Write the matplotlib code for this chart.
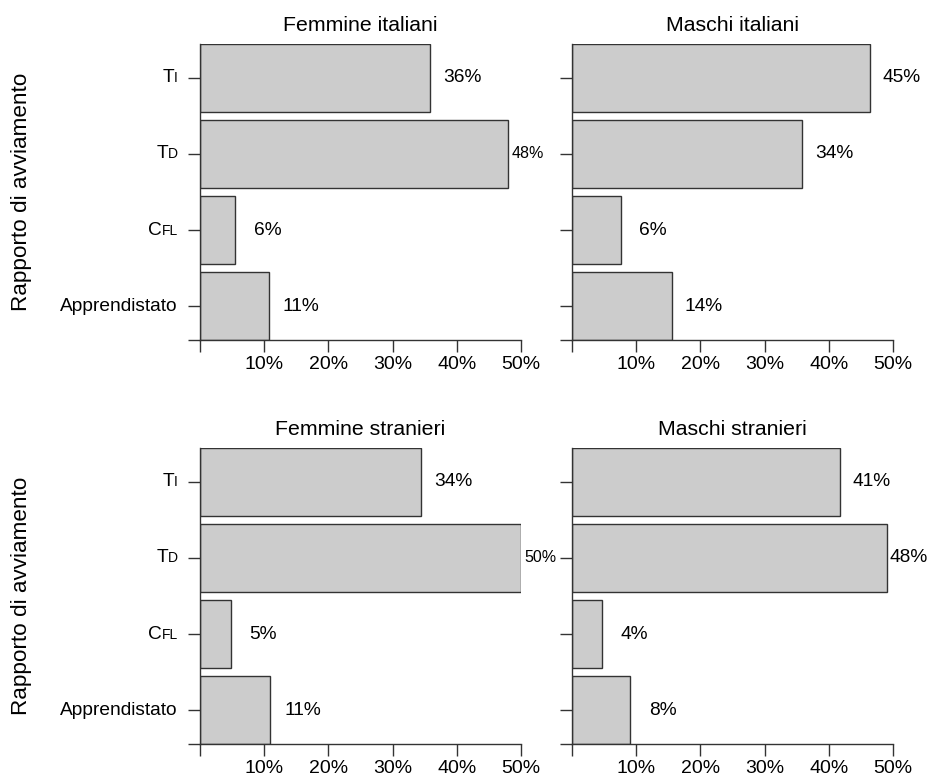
import numpy as np
import matplotlib.pyplot as plt
from matplotlib.offsetbox import TextArea, HPacker, AnnotationBbox

plt.rcParams['font.family'] = ['Liberation Sans', 'DejaVu Sans']

# categories top -> bottom, each label split in (big part, small-caps part)
categories = [("T", "I"), ("T", "D"), ("C", "FL"), ("Apprendistato", "")]

titles = ["Femmine italiani", "Maschi italiani", "Femmine stranieri", "Maschi stranieri"]

# bar lengths (%) as drawn, top -> bottom
fem_ita = [35.9, 48.0, 5.5, 10.7]
mas_ita = [46.4, 35.9, 7.6, 15.5]
fem_str = [34.4, 50.0, 4.8, 10.95]
mas_str = [41.7, 49.0, 4.7, 9.1]

# printed percentages
fem_ita_lab = ["36%", "48%", "6%", "11%"]
mas_ita_lab = ["45%", "34%", "6%", "14%"]
fem_str_lab = ["34%", "50%", "5%", "11%"]
mas_str_lab = ["41%", "48%", "4%", "8%"]

xticks = [0, 10, 20, 30, 40, 50]
xticklabels = ["", "10%", "20%", "30%", "40%", "50%"]

W, H = 932, 779
fig = plt.figure(figsize=(W / 100, H / 100), dpi=100)

def box(l, t, r, b):
    return [l / W, 1 - b / H, (r - l) / W, (b - t) / H]

positions = [box(200, 44, 521, 340), box(572, 44, 893, 340),
             box(200, 448, 521, 744), box(572, 448, 893, 744)]
values = [fem_ita, mas_ita, fem_str, mas_str]
labels = [fem_ita_lab, mas_ita_lab, fem_str_lab, mas_str_lab]

gap = 0.12
bottoms = np.arange(4)[::-1] * (1 + gap)   # top bar first
centers = bottoms + 0.5
top = bottoms[0] + 1

dark = '#333333'

for k in range(4):
    ax = fig.add_axes(positions[k])
    vals = values[k]
    ax.barh(centers, vals, height=1, left=0, color='#cccccc',
            edgecolor=dark, linewidth=1)
    ax.set_xlim(0, 50)
    ax.set_ylim(0, top)
    for s in ['top', 'right']:
        ax.spines[s].set_visible(False)
    for s in ['left', 'bottom']:
        ax.spines[s].set_color(dark)
        ax.spines[s].set_linewidth(1)
    ax.set_xticks(xticks)
    ax.set_xticklabels(xticklabels, fontsize=14)
    ax.set_yticks([0] + list(centers))
    ax.set_yticklabels([])
    ax.tick_params(axis='both', length=8.5, width=1, color=dark, pad=3)
    ax.set_title(titles[k], fontsize=15.3, pad=9.5)

    left_col = k % 2 == 0
    for i in range(4):
        v = vals[i]
        if left_col and v + 5 > 50:
            # squeezed label between the two columns
            ax.text(v + 0.6, centers[i], labels[k][i], ha='left', va='center',
                    fontsize=11.5)
        else:
            ax.text(min(v + 5, 52.5), centers[i], labels[k][i], ha='center',
                    va='center', fontsize=13.8)

    if left_col:
        for i, (big, small) in enumerate(categories):
            parts = [TextArea(big, textprops=dict(fontsize=13.8))]
            if small:
                parts.append(TextArea(small, textprops=dict(fontsize=10)))
            pack = HPacker(children=parts, align='baseline', pad=0, sep=0)
            ab = AnnotationBbox(pack, (0, centers[i]), xycoords='data',
                                xybox=(-15.8, 0), boxcoords='offset points',
                                box_alignment=(1, 0.5), frameon=False, pad=0)
            ax.add_artist(ab)
        yc = 1 - ((44 if k == 0 else 448) + 148) / H
        fig.text(22 / W, yc, "Rapporto di avviamento", rotation=90,
                 ha='center', va='center', fontsize=16.2)

fig.savefig('out.png', dpi=100)
